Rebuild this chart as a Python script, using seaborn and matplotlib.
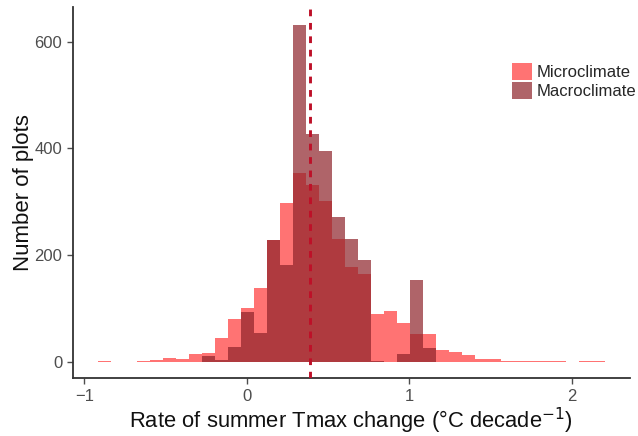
import numpy as np
import pandas as pd
import matplotlib
matplotlib.use("Agg")
import matplotlib.pyplot as plt
import seaborn as sns

# ---- data (counts per bin) ----
bin_start = -0.915
bin_width = 0.08
micro_counts = [1, 0, 0, 2, 4, 8, 6, 15, 17, 45, 81, 101, 139, 229, 297, 354,
                332, 302, 230, 178, 164, 89, 96, 72, 53, 52, 23, 19, 12, 5, 5,
                2, 1, 1, 2, 1, 0, 2, 1]
macro_counts = [0, 0, 0, 0, 0, 0, 0, 0, 11, 3, 28, 93, 54, 229, 182, 632,
                427, 395, 272, 230, 190, 2, 0, 14, 153, 26, 0, 0, 0, 0, 0,
                0, 0, 0, 0, 0, 0, 0, 0]
mean_rate = 0.39
series_labels = ["Microclimate", "Macroclimate"]
x_ticks = [-1, 0, 1, 2]
y_ticks = [0, 200, 400, 600]

n_bins = len(micro_counts)
edges = bin_start + bin_width * np.arange(n_bins + 1)
centers = (edges[:-1] + edges[1:]) / 2

df = pd.DataFrame({
    "rate": np.concatenate([centers, centers]),
    "count": np.concatenate([micro_counts, macro_counts]).astype(float),
    "source": [series_labels[0]] * n_bins + [series_labels[1]] * n_bins,
})

sns.set_theme(style="ticks")
plt.rcParams["font.family"] = ["Liberation Sans", "DejaVu Sans"]

fig = plt.figure(figsize=(6.38, 4.36), dpi=100)
ax = fig.add_axes([0.114, 0.132, 0.9875 - 0.114, 0.984 - 0.132])

colors = {"Microclimate": "#FF0000", "Macroclimate": "#8E222A"}
alphas = {"Microclimate": 0.55, "Macroclimate": 0.7}
for lab in series_labels:
    sub = df[df["source"] == lab].reset_index(drop=True)
    sns.histplot(data=sub, x="rate", weights="count",
                 binwidth=bin_width, binrange=(float(edges[0]), float(edges[-1])),
                 color=colors[lab], alpha=alphas[lab], edgecolor="none",
                 linewidth=0, ax=ax, label=lab, stat="count")

ax.axvline(mean_rate, color="#BE1028", lw=2.1, dashes=(2.3, 2.3), zorder=5)

ax.set_xlim(-1.071, 2.357)
ax.set_ylim(-31, 665)
ax.set_xticks(x_ticks)
ax.set_xticklabels(["\u22121", "0", "1", "2"])
ax.set_yticks(y_ticks)
ax.tick_params(axis="both", labelsize=12, colors="#4D4D4D", length=4, width=1)
for s in ["top", "right"]:
    ax.spines[s].set_visible(False)
for s in ["left", "bottom"]:
    ax.spines[s].set_color("#333333")
    ax.spines[s].set_linewidth(1.3)

ax.set_xlabel("Rate of summer Tmax change (\u00b0C decade$^{\u22121}$)",
              fontsize=15.8, color="#111111", labelpad=1.5)
ax.set_ylabel("Number of plots", fontsize=16, color="#111111", labelpad=0.5)

leg = ax.legend(loc="upper left", bbox_to_anchor=(0.788, 0.849), frameon=False,
                fontsize=12, handlelength=1.2, handleheight=1.2,
                handletextpad=0.3, labelspacing=0.1, borderpad=0,
                borderaxespad=0)

fig.savefig("out.png", dpi=100)
